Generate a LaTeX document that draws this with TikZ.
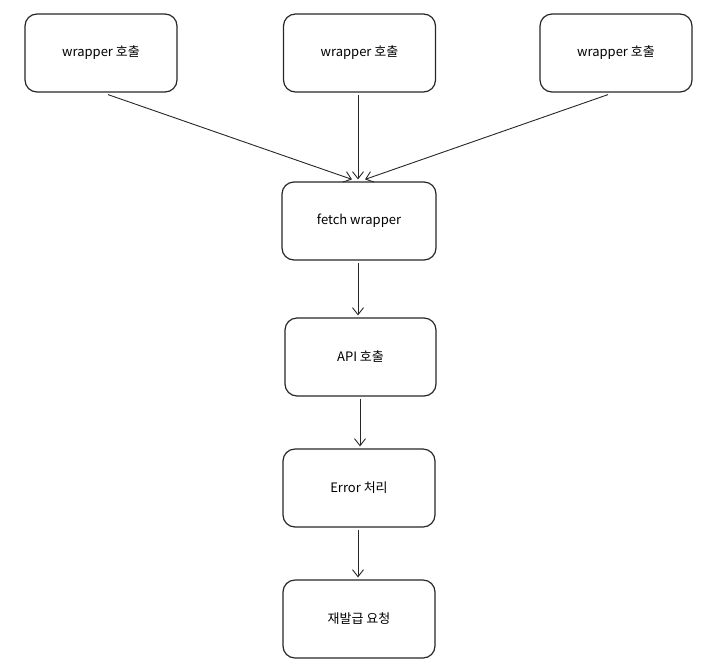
\documentclass[tikz,border=0pt]{standalone}
\usepackage{fontspec}
\setmainfont{Noto Sans CJK KR}
\usetikzlibrary{arrows.meta}
\begin{document}
\begin{tikzpicture}[x=1pt,y=-1pt,
  box/.style={draw=black!85,line width=1.2pt,rounded corners=12pt,minimum width=152pt,minimum height=78pt,font=\fontsize{13}{15}\selectfont,inner sep=0pt},
  conn/.style={draw=black!85,line width=0.9pt,-{Straight Barb[length=7pt,width=11pt,line width=0.9pt]}}]
\useasboundingbox (0,0) rectangle (719,670);
\node[box] (b1) at (101,53) {wrapper 호출};
\node[box] (b2) at (359.5,53) {wrapper 호출};
\node[box] (b3) at (616,53) {wrapper 호출};
\node[box,minimum width=154pt] (f) at (359,221) {fetch wrapper};
\node[box,minimum width=151pt] (api) at (360.5,357) {API 호출};
\node[box] (err) at (359,488) {Error 처리};
\node[box] (req) at (359,619) {재발급 요청};
\draw[conn] ([xshift=7pt,yshift=-2pt]b1.south) -- ([xshift=-7pt,yshift=2pt]f.north);
\draw[conn] ([xshift=-1.5pt,yshift=-2pt]b2.south) -- ([xshift=-1pt,yshift=2pt]f.north);
\draw[conn] ([xshift=-8pt,yshift=-2pt]b3.south) -- ([xshift=6pt,yshift=2pt]f.north);
\draw[conn] ([xshift=-1pt,yshift=-2pt]f.south) -- ([xshift=-2.5pt,yshift=2pt]api.north);
\draw[conn] ([xshift=-0.5pt,yshift=-2pt]api.south) -- ([xshift=1pt,yshift=2pt]err.north);
\draw[conn] ([xshift=-1pt,yshift=-2pt]err.south) -- ([xshift=-1pt,yshift=2pt]req.north);
\end{tikzpicture}
\end{document}
